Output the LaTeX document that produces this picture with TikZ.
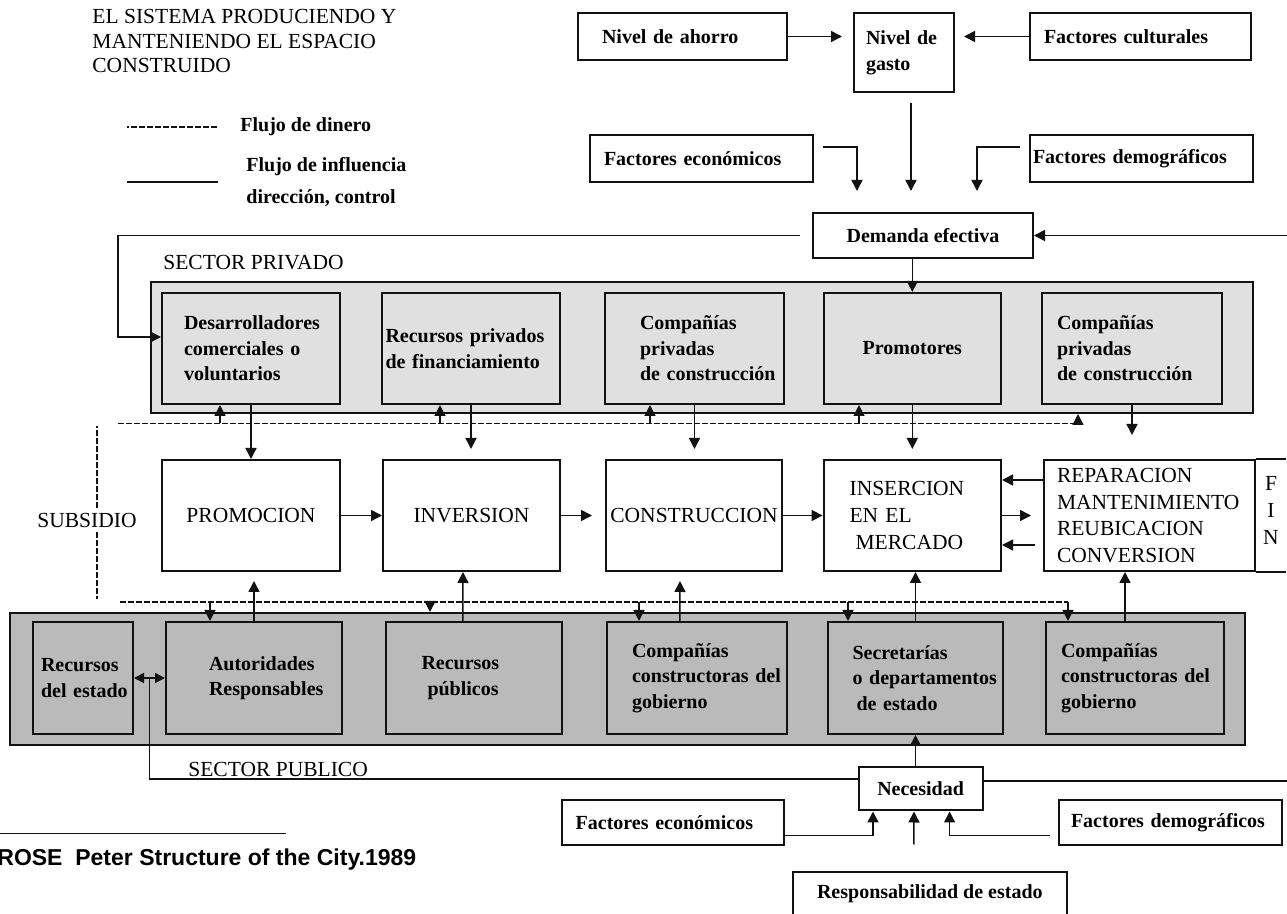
\documentclass[tikz,border=0pt]{standalone}
\usepackage{fontspec}
\setmainfont{Liberation Serif}
\newfontfamily\citefont{Liberation Sans}
\usepackage{tikz}
\usetikzlibrary{arrows.meta}
\definecolor{ink}{RGB}{18,18,18}
\definecolor{privgray}{RGB}{224,224,224}
\definecolor{pubgray}{RGB}{186,186,186}
\hyphenpenalty=10000
\exhyphenpenalty=10000

\begin{document}
\begin{tikzpicture}[x=0.5pt,y=-0.5pt,
  lbox/.style={draw=ink,line width=1pt,align=left,inner ysep=0pt,font=\fontsize{10}{12.75}\selectfont\bfseries},
  capbox/.style={draw=ink,line width=1pt,inner ysep=0pt,minimum height=55.5pt,font=\fontsize{10.75}{13.35}\selectfont},
  sector/.style={draw=ink,line width=1pt,inner sep=0pt},
  plain/.style={inner sep=0pt,font=\fontsize{10.75}{12.25}\selectfont},
  conn/.style={-{Triangle[length=5.5pt,width=5.5pt]},line width=0.75pt,draw=ink},
  dbl/.style={arrows={Triangle[length=5pt,width=5pt]-Triangle[length=5pt,width=5pt]},line width=0.75pt,draw=ink},
  money/.style={line width=0.6pt,draw=ink,dash pattern=on 3pt off 1pt}]
  \useasboundingbox (0,0) rectangle (1287,914);

  \node[plain,anchor=north west,align=left] (titulo) at (92,9) {EL SISTEMA PRODUCIENDO Y\\MANTENIENDO EL ESPACIO\\CONSTRUIDO};
  \node[plain,anchor=west,font=\fontsize{10}{12}\selectfont\bfseries] (ldinero) at (240,127) {Flujo de dinero};
  \draw[money] ([xshift=-11.5pt]ldinero.west) -- ++(-90,0);
  \node[plain,anchor=west,align=left,font=\fontsize{10}{16}\selectfont\bfseries] (linflu) at (246,182) {Flujo de influencia\\dirección, control};
  \draw[line width=0.75pt,draw=ink] ([xshift=-14pt]linflu.west) -- ++(-91,0);

  \node[lbox,minimum height=23.5pt,text width=80.5pt,inner xsep=12pt] (ahorro) at (682.5,36.5) {Nivel~de~ahorro};
  \node[lbox,minimum height=39.5pt,text width=38pt,inner xsep=6pt,font=\fontsize{10}{13}\selectfont\bfseries] (gasto) at (904,52.5) {Nivel de\\gasto};
  \node[lbox,minimum height=23.5pt,text width=96.5pt,inner xsep=7pt] (cultur) at (1140.5,36.5) {Factores~culturales};
  \node[lbox,minimum height=23.5pt,text width=97.5pt,inner xsep=7pt] (econ) at (701.5,158.5) {Factores~económicos};
  \node[lbox,minimum height=23.5pt,text width=108.5pt,inner xsep=1.5pt] (demog) at (1141.5,158.5) {Factores~demográficos};
  \node[lbox,align=center,minimum width=110pt,minimum height=22.5pt] (demanda) at (923,235.5) {Demanda efectiva};

  \node[sector,fill=privgray,minimum width=551pt,minimum height=65.5pt] (privado) at (702,347.5) {};
  \node[sector,fill=pubgray,minimum width=617.5pt,minimum height=66pt] (publico) at (627.5,679) {};
  \node[plain,anchor=west] (sprivado) at (163,263) {SECTOR PRIVADO};

  \node[lbox,fill=privgray,minimum height=55.5pt,text width=67pt,inner xsep=11pt] (desarr) at (251,348.5) {Desarrolladores\\comerciales~o\\voluntarios};
  \node[lbox,fill=privgray,minimum height=55.5pt,text width=85.5pt,inner xsep=1.75pt] (recpriv) at (471,348.5) {Recursos~privados\\de~financiamiento};
  \node[lbox,fill=privgray,minimum height=55.5pt,text width=54.5pt,inner xsep=17.5pt] (comppriv1) at (694.5,348.5) {Compañías\\privadas\\de~construcción};
  \node[lbox,fill=privgray,align=center,minimum width=88.7pt,minimum height=55.5pt] (promot) at (912.3,348.5) {Promotores};
  \node[lbox,fill=privgray,minimum height=55.5pt,text width=75pt,inner xsep=7.5pt] (comppriv2) at (1132,348.5) {Compañías\\privadas\\de~construcción};

  \node[capbox,minimum width=89pt] (promocion) at (251,515.5) {PROMOCION};
  \node[capbox,minimum width=88.5pt] (inversion) at (471.5,515.5) {INVERSION};
  \node[capbox,minimum width=88pt,inner xsep=1pt] (construccion) at (694,515.5) {CONSTRUCCION};
  \node[capbox,align=left,text width=62.7pt,inner xsep=13pt] (insercion) at (912.3,515.5) {INSERCION\\EN~EL\\\hspace*{3pt}MERCADO};
  \node[capbox,align=left,text width=92.5pt,inner xsep=6.5pt] (reparacion) at (1149.5,515.5) {REPARACION\\MANTENIMIENTO\\REUBICACION\\CONVERSION};
  \node[plain,align=center,font=\fontsize{10.75}{13.5}\selectfont] (fin) at (1271,510) {F\\I\\N};
  \draw[line width=1pt,draw=ink] (reparacion.north east) -- ++(30,0) (reparacion.south east) -- ++(30,0);
  \node[plain,fill=white,inner sep=2pt] (subsidio) at (87,520) {SUBSIDIO};
  \draw[money] ([xshift=5pt]subsidio.north) -- ++(0,-82);
  \draw[money] ([xshift=5pt]subsidio.south) -- ++(0,67);

  \node[lbox,fill=pubgray,minimum height=56pt,text width=42pt,inner xsep=4pt] (recestado) at (83,678) {Recursos\\del~estado};
  \node[lbox,fill=pubgray,minimum height=56pt,text width=45pt,inner xsep=21.5pt] (autoridades) at (254,678) {Autoridades\\Responsables};
  \node[lbox,fill=pubgray,minimum height=56pt,text width=52.25pt,inner xsep=18pt] (recpub) at (473.75,678) {Recursos\\\hspace*{3pt}públicos};
  \node[lbox,fill=pubgray,minimum height=56pt,text width=64.75pt,inner xsep=12.5pt] (compgob1) at (696.75,678) {Compañías\\constructoras~del\\gobierno};
  \node[lbox,fill=pubgray,minimum height=56pt,text width=63pt,inner xsep=12.25pt] (secret) at (915.5,678) {Secretarías\\o~departamentos\\\hspace*{2pt}de~estado};
  \node[lbox,fill=pubgray,minimum height=56pt,text width=74pt,inner xsep=7.5pt] (compgob2) at (1135,678) {Compañías\\constructoras~del\\gobierno};

  \node[lbox,align=center,minimum width=61.9pt,minimum height=21.75pt] (necesidad) at (920.6,788.75) {Necesidad};
  \node[lbox,minimum height=22.75pt,text width=97.15pt,inner xsep=7pt] (econ2) at (672.85,822.75) {Factores~económicos};
  \node[lbox,minimum height=22.75pt,text width=99.3pt,inner xsep=6pt] (demog2) at (1170.3,822.75) {Factores~demográficos};
  \node[lbox,align=center,minimum width=137.15pt,minimum height=22pt] (resp) at (929.85,894) {Responsabilidad de estado};
  \node[plain,anchor=base west] (spublico) at (188,777) {SECTOR PUBLICO};
  \node[plain,anchor=west,font=\citefont\fontsize{11.5}{14}\selectfont\bfseries] (fuente) at (-3,860) {ROSE\ \ Peter Structure of the City.1989};
  \draw[line width=0.75pt,draw=ink] ([yshift=7.6pt]fuente.north west) -- ++(289,0);

  \draw[conn,shorten >=5.5pt] (ahorro) -- (ahorro -| gasto.west);
  \draw[conn,shorten >=4.5pt] (cultur) -- (cultur -| gasto.east);
  \draw[conn,shorten <=5pt,shorten >=10.5pt] ([xshift=3.5pt]gasto.south) -- ([xshift=-6pt]demanda.north);
  \draw[conn,shorten <=4.5pt,shorten >=10.5pt] ([yshift=5.75pt]econ.east) -| ([xshift=-33pt]demanda.north);
  \draw[conn,shorten <=4.5pt,shorten >=10.5pt] ([yshift=5.75pt]demog.west) -| ([xshift=27pt]demanda.north);
  \coordinate (rin) at (1287,235.5);
  \draw[conn] (rin) -- (demanda.east);
  \coordinate (pcorner) at (118,235.5);
  \draw[conn,shorten <=6pt] (demanda.west) -- (pcorner) |- ([yshift=5.75pt]desarr.west);
  \draw[conn] (demanda.south -| promot.north) -- (promot.north);

  \draw[money] (118,423.5) -- (1078,423.5);
  \coordinate (mp1) at (220,423.5);
  \coordinate (mp2) at (440,423.5);
  \coordinate (mp3) at (650,423.5);
  \coordinate (mp4) at (859,423.5);
  \coordinate (mp5) at (1078,423.5);
  \draw[conn] (mp1) -- (mp1 |- desarr.south);
  \draw[conn] (mp2) -- (mp2 |- recpriv.south);
  \draw[conn] (mp3) -- (mp3 |- comppriv1.south);
  \draw[conn] (mp4) -- (mp4 |- promot.south);
  \draw[conn] (mp5) -- (mp5 |- privado.south);

  \draw[conn] (desarr) -- (promocion);
  \draw[conn,shorten >=5pt] (recpriv.south) -- (recpriv.south |- inversion.north);
  \draw[conn,shorten >=5pt] (comppriv1.south) -- (comppriv1.south |- construccion.north);
  \draw[conn,shorten >=5pt] (promot.south) -- (promot.south |- insercion.north);
  \draw[conn,shorten >=12pt] (comppriv2.south) -- (comppriv2.south |- reparacion.north);

  \draw[conn] (promocion) -- (inversion);
  \draw[conn,shorten >=6.5pt] (inversion) -- (construccion);
  \draw[conn] (construccion) -- (insercion);
  \draw[conn,shorten >=6pt] (insercion) -- (reparacion);
  \draw[conn] ([yshift=17.75pt]reparacion.west) -- ([yshift=17.75pt]insercion.east);
  \draw[conn,shorten <=4pt] ([yshift=-14.75pt]reparacion.west) -- ([yshift=-14.75pt]insercion.east);

  \draw[money] (120,602) -- (1068,602);
  \coordinate (mq1) at (210,602);
  \coordinate (mq2) at (430,602);
  \coordinate (mq3) at (639,602);
  \coordinate (mq4) at (848,602);
  \coordinate (mq5) at (1068,602);
  \draw[conn] (mq1) -- (mq1 |- autoridades.north);
  \draw[conn] (mq2) -- (mq2 |- publico.north);
  \draw[conn] (mq3) -- (mq3 |- compgob1.north);
  \draw[conn] (mq4) -- (mq4 |- secret.north);
  \draw[conn] (mq5) -- (mq5 |- compgob2.north);

  \draw[conn,shorten >=4.5pt] (autoridades.north) -- (autoridades.north |- promocion.south);
  \draw[conn] ([xshift=-5.4pt]recpub.north) -- ([xshift=-4.25pt]inversion.south);
  \draw[conn,shorten >=4.5pt] ([xshift=-8.4pt]compgob1.north) -- ([xshift=-7pt]construccion.south);
  \draw[conn] (secret.north) -- (secret.north |- insercion.south);
  \draw[conn] ([xshift=-5pt]compgob2.north) -- ([xshift=-12.25pt]reparacion.south);

  \draw[dbl] (recestado) -- coordinate[midway] (dmid) (autoridades);
  \draw[line width=0.75pt,draw=ink] (dmid) -- ++(0,101) coordinate (pubL) -- (pubL -| necesidad.west);
  \coordinate (pubR) at (1287,781);
  \draw[line width=0.75pt,draw=ink] (necesidad.east |- pubR) -- (pubR);

  \draw[conn] (necesidad.north -| secret.south) -- (secret.south);
  \draw[conn] ([yshift=-6.4pt]econ2.east) -| ([xshift=-23.8pt]necesidad.south);
  \draw[conn,shorten <=4.25pt] ([yshift=-6.4pt]demog2.west) -| ([xshift=14.5pt]necesidad.south);
  \draw[conn,shorten <=13.25pt] ([xshift=-8pt]resp.north) -- ([xshift=-3.3pt]necesidad.south);
\end{tikzpicture}
\end{document}
